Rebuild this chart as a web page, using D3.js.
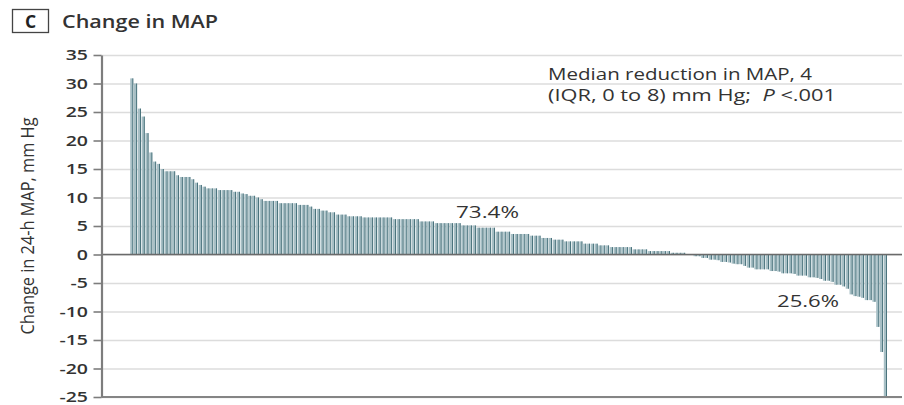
<!DOCTYPE html>
<html>
<head>
<meta charset="utf-8">
<script src="https://cdn.jsdelivr.net/npm/d3@7"></script>
<style>
  body { margin: 0; background: #fff; }
  svg { display: block; }
</style>
</head>
<body>
<svg id="chart" width="904" height="405"></svg>
<script>
// Per-patient change in 24-h mean arterial pressure (mm Hg), sorted high to low
const reducedMAP = [
  30.9, 30.0, 25.6, 24.2, 21.3, 17.9, 16.3, 15.9, 15.0, 14.6,
  14.6, 14.6, 13.9, 13.6, 13.6, 13.6, 13.2, 12.6, 12.2, 11.9,
  11.6, 11.6, 11.6, 11.3, 11.3, 11.3, 11.3, 11.0, 11.0, 10.7,
  10.6, 10.3, 10.3, 10.0, 9.7, 9.4, 9.4, 9.4, 9.4, 9.0,
  9.0, 9.0, 9.0, 9.0, 8.7, 8.7, 8.7, 8.4, 8.0, 8.0,
  7.7, 7.7, 7.4, 7.4, 7.0, 7.0, 7.0, 6.7, 6.7, 6.7,
  6.7, 6.5, 6.5, 6.5, 6.5, 6.5, 6.5, 6.5, 6.5, 6.2,
  6.2, 6.2, 6.2, 6.2, 6.2, 6.2, 5.8, 5.8, 5.8, 5.8,
  5.5, 5.5, 5.5, 5.5, 5.5, 5.5, 5.5, 5.1, 5.1, 5.1,
  5.1, 4.7, 4.7, 4.7, 4.7, 4.7, 4.0, 4.0, 4.0, 4.0,
  3.6, 3.6, 3.6, 3.6, 3.6, 3.3, 3.3, 3.3, 2.9, 2.9,
  2.9, 2.6, 2.6, 2.6, 2.3, 2.3, 2.3, 2.3, 2.3, 1.9,
  1.9, 1.9, 1.9, 1.6, 1.6, 1.6, 1.3, 1.3, 1.3, 1.3,
  1.3, 1.3, 0.9, 0.9, 0.9, 0.9, 0.6, 0.6, 0.6, 0.6,
  0.6, 0.6, 0.3, 0.3, 0.3, 0.3
];
const unchangedMAP = [0, 0];
const increasedMAP = [
  -0.3, -0.3, -0.6, -0.6, -0.9, -0.9, -1.0, -1.3, -1.3, -1.4,
  -1.6, -1.7, -1.7, -2.0, -2.3, -2.3, -2.6, -2.6, -2.6, -2.6,
  -2.9, -2.9, -3.0, -3.3, -3.3, -3.3, -3.4, -3.7, -3.7, -3.7,
  -4.0, -4.0, -4.1, -4.3, -4.6, -4.6, -4.8, -5.3, -5.3, -5.6,
  -6.0, -7.0, -7.3, -7.4, -7.6, -8.0, -8.0, -8.3, -12.7, -17.1,
  -25.0
];
const yTicks = [35, 30, 25, 20, 15, 10, 5, 0, -5, -10, -15, -20, -25];
const panelLetter = "C";
const panelTitle = "Change in MAP";
const yAxisTitle = "Change in 24-h MAP, mm Hg";
const shareLabels = ["73.4%", "25.6%"];

const values = reducedMAP.concat(unchangedMAP, increasedMAP);
const idx = values.map((_, i) => i);

const svg = d3.select("#chart");
const textColor = "#333";
const fontFamily = "'Open Sans', 'DejaVu Sans', sans-serif";

const axisX = 101.5;
const rightEdge = 902;

const x = d3.scaleBand().domain(idx).range([129.6, 887]).padding(0);
const y = d3.scaleLinear().domain([-25, 35]).range([397, 55]);

// horizontal gridlines
const grid = svg.append("g")
  .attr("transform", `translate(${axisX},0)`)
  .call(d3.axisLeft(y).tickValues(yTicks).tickSize(-(rightEdge - axisX)).tickFormat(""));
grid.select(".domain").remove();
grid.selectAll(".tick line").attr("stroke", "#dcdcdc").attr("stroke-width", 1.6);

// bars: light body with a darker right edge
const step = x.step();
const bars = svg.append("g");
bars.selectAll("rect.fill")
  .data(values)
  .join("rect")
  .attr("class", "fill")
  .attr("x", (d, i) => x(i) + 0.6)
  .attr("width", step - 0.8)
  .attr("y", d => y(Math.max(0, d)))
  .attr("height", d => Math.abs(y(d) - y(0)))
  .attr("fill", "#a7bfc5");
bars.selectAll("rect.edge")
  .data(values)
  .join("rect")
  .attr("class", "edge")
  .attr("x", (d, i) => x(i) + step - 1.0)
  .attr("width", 0.9)
  .attr("y", d => y(Math.max(0, d)))
  .attr("height", d => Math.abs(y(d) - y(0)))
  .attr("fill", "#3f6a74");

// zero reference line and bottom frame line
svg.append("line")
  .attr("x1", axisX).attr("x2", rightEdge)
  .attr("y1", y(0)).attr("y2", y(0))
  .attr("stroke", "#6a6a6a").attr("stroke-width", 1.6);
svg.append("line")
  .attr("x1", axisX).attr("x2", rightEdge)
  .attr("y1", y(-25)).attr("y2", y(-25))
  .attr("stroke", "#858585").attr("stroke-width", 2);

// y axis
const yAxis = svg.append("g")
  .attr("transform", `translate(${axisX},0)`)
  .call(d3.axisLeft(y).tickValues(yTicks).tickSize(8).tickSizeOuter(0).tickFormat(d3.format("d")));
yAxis.select(".domain").attr("stroke", "#7d7d7d").attr("stroke-width", 2.2);
yAxis.selectAll(".tick line").attr("stroke", "#7d7d7d").attr("stroke-width", 1.6);
yAxis.selectAll(".tick text")
  .attr("x", 0)
  .attr("dy", "0.33em")
  .attr("transform", "translate(-13.5,0) scale(1.3,1)")
  .attr("fill", textColor)
  .style("font-family", fontFamily)
  .style("font-weight", 600)
  .style("font-size", "15px")
  .text(d => d < 0 ? "-" + Math.abs(d) : d);

// y axis title (narrow setting)
svg.append("text")
  .attr("transform", "translate(34,226) rotate(-90)")
  .attr("text-anchor", "middle")
  .attr("textLength", 217)
  .attr("lengthAdjust", "spacingAndGlyphs")
  .attr("fill", textColor)
  .style("font-family", fontFamily)
  .style("font-size", "18.5px")
  .text(yAxisTitle);

// panel letter box and title
svg.append("rect")
  .attr("x", 12.5).attr("y", 9.5).attr("width", 36).attr("height", 23)
  .attr("fill", "none").attr("stroke", "#444").attr("stroke-width", 1.3);
svg.append("text")
  .attr("x", 30.5).attr("y", 27.5)
  .attr("text-anchor", "middle")
  .attr("fill", "#222")
  .style("font-family", fontFamily)
  .style("font-weight", 700)
  .style("font-size", "17.5px")
  .text(panelLetter);
svg.append("text")
  .attr("x", 62).attr("y", 28)
  .attr("textLength", 156)
  .attr("lengthAdjust", "spacingAndGlyphs")
  .attr("fill", textColor)
  .style("font-family", fontFamily)
  .style("font-weight", 600)
  .style("font-size", "18px")
  .text(panelTitle);

// median annotation
svg.append("text")
  .attr("x", 548).attr("y", 80)
  .attr("textLength", 264)
  .attr("lengthAdjust", "spacingAndGlyphs")
  .attr("fill", textColor)
  .style("font-family", fontFamily)
  .style("font-size", "15.5px")
  .text("Median reduction in MAP, 4");
const line2 = svg.append("text")
  .attr("x", 548).attr("y", 101)
  .attr("textLength", 288)
  .attr("lengthAdjust", "spacingAndGlyphs")
  .attr("fill", textColor)
  .style("font-family", fontFamily)
  .style("font-size", "15.5px");
line2.append("tspan").text("(IQR, 0 to 8) mm Hg;\u00a0\u00a0");
line2.append("tspan").style("font-style", "italic").text("P");
line2.append("tspan").text(" <.001");

// share of patients with reduced / increased MAP
svg.append("text")
  .attr("x", 456).attr("y", 218)
  .attr("textLength", 63)
  .attr("lengthAdjust", "spacingAndGlyphs")
  .attr("fill", textColor)
  .style("font-family", fontFamily)
  .style("font-size", "17px")
  .text(shareLabels[0]);
svg.append("text")
  .attr("x", 777).attr("y", 307)
  .attr("textLength", 62)
  .attr("lengthAdjust", "spacingAndGlyphs")
  .attr("fill", textColor)
  .style("font-family", fontFamily)
  .style("font-size", "17px")
  .text(shareLabels[1]);
</script>
</body>
</html>
